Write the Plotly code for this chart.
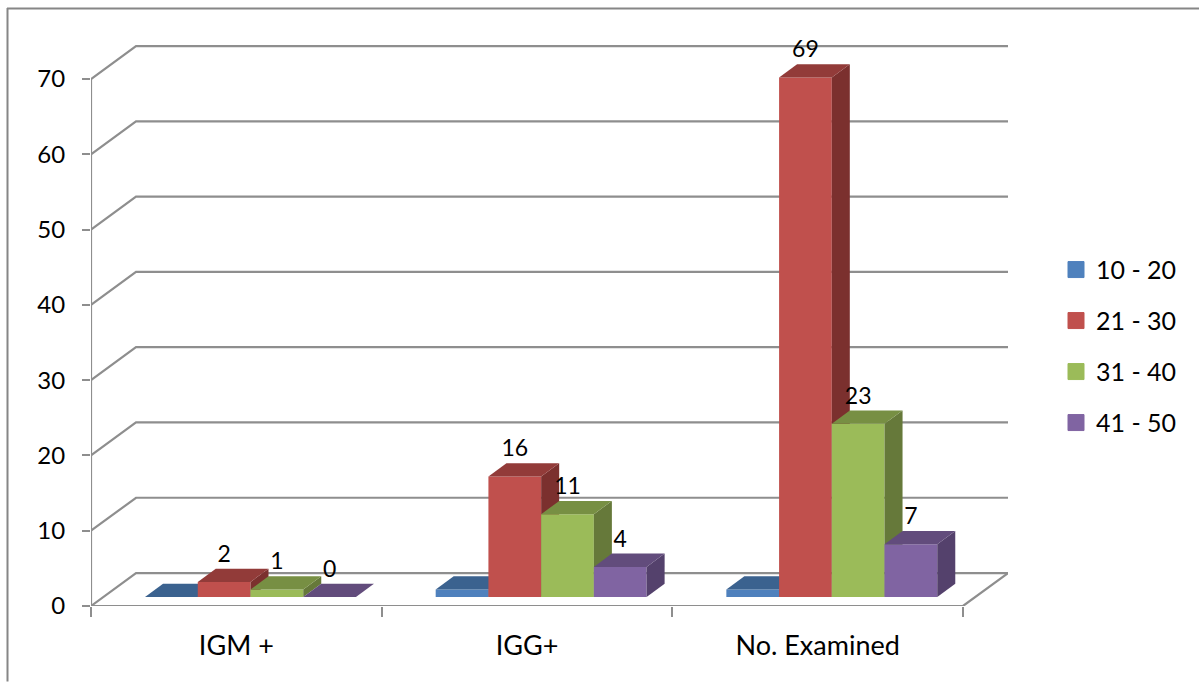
import plotly.graph_objects as go

categories = ["IGM +", "IGG+", "No. Examined"]
series_names = ["10 - 20", "21 - 30", "31 - 40", "41 - 50"]
values_10_20 = [0, 1, 1]
values_21_30 = [2, 16, 69]
values_31_40 = [1, 11, 23]
values_41_50 = [0, 4, 7]
y_ticks = [0, 10, 20, 30, 40, 50, 60, 70]

all_values = [values_10_20, values_21_30, values_31_40, values_41_50]
front_colors = ["#4F81BD", "#C0504D", "#9BBB59", "#8064A2"]
top_colors = ["#3B628F", "#923B39", "#778F43", "#624C7C"]
side_colors = ["#2F4F73", "#7B302E", "#66793A", "#54416C"]

FONT = "Lato"
GRID = "#8E8E8E"
PX_X = 290.5          # pixels per category
PX_Y = 7.535          # pixels per value unit
L, R, T, B = 91, 1008, 20, 606.5
W, H = 1199, 682
WALL_X, WALL_Y = 45 / PX_X, 33 / PX_Y
DEPTH_X, DEPTH_Y = 18 / PX_X, 13.3 / PX_Y
FLOOR = 9 / PX_Y
START = 54 / PX_X
BAR_W = 52.7 / PX_X
XMAX = 3 + WALL_X
YMAX = (B - T) / PX_Y

fig = go.Figure()

# walls and gridlines
gx, gy = [], []
for v in y_ticks:
    gx += [0, WALL_X, XMAX, None]
    gy += [v, v + WALL_Y, v + WALL_Y, None]
gx += [0, 3, XMAX, None, 0, 0]
gy += [0, 0, WALL_Y, None, 0, 70]
fig.add_trace(go.Scatter(x=gx, y=gy, mode="lines", line=dict(color=GRID, width=2.2),
                         hoverinfo="skip", showlegend=False, cliponaxis=False, zorder=-1))


def poly(xs, ys, color, z):
    fig.add_trace(go.Scatter(x=xs, y=ys, mode="lines", fill="toself", fillcolor=color,
                             line=dict(width=0, color=color), hoverinfo="skip",
                             showlegend=False, zorder=z))


z = 0
lab_x, lab_y, lab_t = [], [], []
for c in range(len(categories)):
    for s in range(len(series_names)):
        v = all_values[s][c]
        x0 = c + START + s * BAR_W
        x1 = x0 + BAR_W
        top = FLOOR + v
        poly([x1, x1, x1 + DEPTH_X, x1 + DEPTH_X, x1],
             [FLOOR, top, top + DEPTH_Y, FLOOR + DEPTH_Y, FLOOR], side_colors[s], z)
        poly([x0, x1, x1 + DEPTH_X, x0 + DEPTH_X, x0],
             [top, top, top + DEPTH_Y, top + DEPTH_Y, top], top_colors[s], z)
        fig.add_trace(go.Bar(x=[(x0 + x1) / 2], y=[v], base=[FLOOR], width=[BAR_W],
                             marker=dict(color=front_colors[s], line=dict(width=0)),
                             showlegend=False, hoverinfo="skip", zorder=z))
        if s > 0:
            lab_x.append((x0 + x1) / 2)
            lab_y.append(top + 26 / PX_Y)
            lab_t.append(str(v))
        z += 1

fig.add_trace(go.Scatter(x=lab_x, y=lab_y, text=lab_t, mode="text", textposition="middle center",
                         textfont=dict(family=FONT, size=23, color="#000000"),
                         hoverinfo="skip", showlegend=False, cliponaxis=False, zorder=z + 1))

# legend entries
for s, name in enumerate(series_names):
    fig.add_trace(go.Scatter(x=[None], y=[None], mode="markers", name=name, legendgroup=name,
                             marker=dict(symbol="square", size=16, color=front_colors[s],
                                         line=dict(width=1, color=front_colors[s]))))


def px(x):
    return (x - L) / (R - L)


def py(y):
    return (B - y) / (B - T)


frame = dict(type="line", xref="paper", yref="paper", line=dict(color="#868686", width=2))
fig.update_layout(
    width=W, height=H, autosize=False,
    margin=dict(l=L, r=W - R, t=T, b=H - B, pad=0, autoexpand=False),
    paper_bgcolor="#FFFFFF", plot_bgcolor="rgba(0,0,0,0)",
    barmode="overlay",
    font=dict(family=FONT, size=24, color="#000000"),
    xaxis=dict(range=[0, XMAX], tickmode="array", tickvals=[0.5, 1.5, 2.5], ticktext=categories,
               ticks="", showgrid=False, zeroline=False, showline=False,
               tickfont=dict(family=FONT, size=27), ticklabelstandoff=21,
               minor=dict(tickmode="array", tickvals=[0, 1, 2, 3], ticks="outside", ticklen=10,
                          tickcolor=GRID, tickwidth=2, showgrid=False)),
    yaxis=dict(range=[0, YMAX], tickmode="array", tickvals=y_ticks, ticks="outside", ticklen=8,
               tickcolor=GRID, tickwidth=2, showgrid=False, zeroline=False, showline=False,
               tickfont=dict(family=FONT, size=24), ticklabelstandoff=12),
    legend=dict(x=px(1056), y=py(247), xanchor="left", yanchor="top", tracegroupgap=15.5,
                itemsizing="trace", itemwidth=30, bgcolor="rgba(0,0,0,0)",
                font=dict(family=FONT, size=25, color="#000000")),
    shapes=[
        dict(frame, x0=px(7.5), x1=px(7.5), y0=py(8), y1=py(682)),
        dict(frame, x0=px(7), x1=px(1199), y0=py(8.5), y1=py(8.5)),
    ],
)

fig.write_html("out.html", config={"displayModeBar": False},
               post_script="document.body.style.margin='0';")
